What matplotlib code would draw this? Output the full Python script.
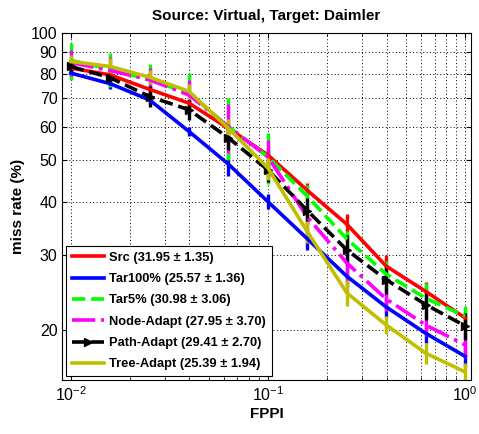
import numpy as np
import matplotlib
matplotlib.use('Agg')
import matplotlib.pyplot as plt
from matplotlib.ticker import FixedLocator, NullFormatter, LogLocator

plt.rcParams['font.family'] = ['Liberation Sans', 'DejaVu Sans']

# DATA -----------------------------------------------------------------------
fppi = 10 ** np.linspace(-2, 0, 11)

src = [82.5, 79.5, 73.5, 68.2, 59.5, 51.5, 42.5, 35.4, 28.2, 24.6, 21.3]
tar100 = [80.3, 75.8, 69.4, 58.5, 49.0, 40.0, 32.7, 26.7, 22.6, 19.6, 17.3]
tar5 = [86.0, 82.0, 77.4, 72.0, 60.0, 51.0, 41.2, 32.7, 27.0, 23.7, 21.5]
node = [85.0, 81.4, 77.4, 71.3, 60.0, 51.0, 36.8, 28.7, 23.6, 20.5, 18.4]
path = [83.2, 78.3, 70.7, 65.8, 56.5, 47.5, 38.1, 30.8, 26.2, 22.9, 20.4]
tree = [85.5, 83.2, 78.5, 72.7, 59.5, 48.0, 34.0, 24.4, 20.5, 17.6, 15.9]

src_err = [1.5, 1.5, 1.5, 1.5, 1.8, 1.8, 1.8, 2.0, 1.8, 1.3, 1.0]
tar100_err = [1.5, 2.0, 1.5, 1.5, 3.0, 1.6, 2.0, 1.5, 1.2, 1.0, 1.0]
tar5_err = [8.5, 7.5, 7.0, 8.5, 10.0, 7.0, 2.5, 1.5, 2.0, 2.0, 1.2]
node_err = [6.0, 6.0, 5.0, 6.0, 8.0, 5.0, 2.0, 3.0, 1.5, 1.2, 1.3]
path_err = [3.0, 3.0, 4.0, 3.5, 3.5, 3.0, 2.7, 2.5, 2.0, 1.8, 1.5]
tree_err = [3.0, 4.0, 3.0, 3.0, 3.0, 3.0, 2.0, 1.7, 1.0, 1.0, 0.8]

labels = ['Src (31.95 \u00b1 1.35)', 'Tar100% (25.57 \u00b1 1.36)',
          'Tar5% (30.98 \u00b1 3.06)', 'Node-Adapt (27.95 \u00b1 3.70)',
          'Path-Adapt (29.41 \u00b1 2.70)', 'Tree-Adapt (25.39 \u00b1 1.94)']

yticks = [20, 30, 40, 50, 60, 70, 80, 90, 100]

# PLOT -----------------------------------------------------------------------
fig = plt.figure(figsize=(4.79, 4.34), dpi=100)
ax = fig.add_axes([0.130, 0.124, 0.853, 0.801])

series = [
    (src, src_err, '#ff0000', '-', None),
    (tar100, tar100_err, '#0000ff', '-', None),
    (tar5, tar5_err, '#00ff00', '--', None),
    (node, node_err, '#ff00ff', '-.', None),
    (path, path_err, 'black', '--', '>'),
    (tree, tree_err, '#bfbf00', '-', None),
]

handles = []
for (vals, err, col, ls, mk), lab in zip(series, labels):
    eb = ax.errorbar(fppi, vals, yerr=err, color=col, linestyle=ls, linewidth=2.6,
                     elinewidth=2.4, capsize=0, marker=mk, markersize=5.5,
                     markeredgecolor=col, label=lab)
    handles.append(eb)

ax.set_xscale('log')
ax.set_yscale('log')
ax.set_xlim(0.00906, 1.07)
ax.set_ylim(15.2, 100)

ax.yaxis.set_major_locator(FixedLocator(yticks))
ax.yaxis.set_major_formatter(plt.FixedFormatter([str(t) for t in yticks]))
ax.yaxis.set_minor_locator(FixedLocator([]))
ax.yaxis.set_minor_formatter(NullFormatter())
ax.xaxis.set_major_locator(FixedLocator([0.01, 0.1, 1]))
ax.xaxis.set_minor_locator(LogLocator(base=10, subs=np.arange(2, 10)))
ax.xaxis.set_minor_formatter(NullFormatter())

ax.tick_params(which='both', direction='in', top=True, right=True, labelsize=11.5)
ax.grid(True, which='major', linestyle=(0, (1, 2.5)), color='black', linewidth=0.7)
ax.grid(True, which='minor', axis='x', linestyle=(0, (1, 2.5)), color='black', linewidth=0.7)

ax.set_title('Source: Virtual, Target: Daimler', fontsize=11, fontweight='bold', pad=9)
ax.set_xlabel('FPPI', fontsize=11, fontweight='bold', labelpad=2)
ax.set_ylabel('miss rate (%)', fontsize=11, fontweight='bold')

leg = ax.legend(handles=[h[0] for h in handles], labels=labels, loc='lower left',
                prop={'weight': 'bold', 'size': 9.3},
                fancybox=False, framealpha=1,
                edgecolor='black', handlelength=2.5, borderaxespad=0.3,
                labelspacing=0.72, handletextpad=0.4, borderpad=0.45)
leg.get_frame().set_linewidth(0.8)

plt.savefig('out.png', dpi=100)
